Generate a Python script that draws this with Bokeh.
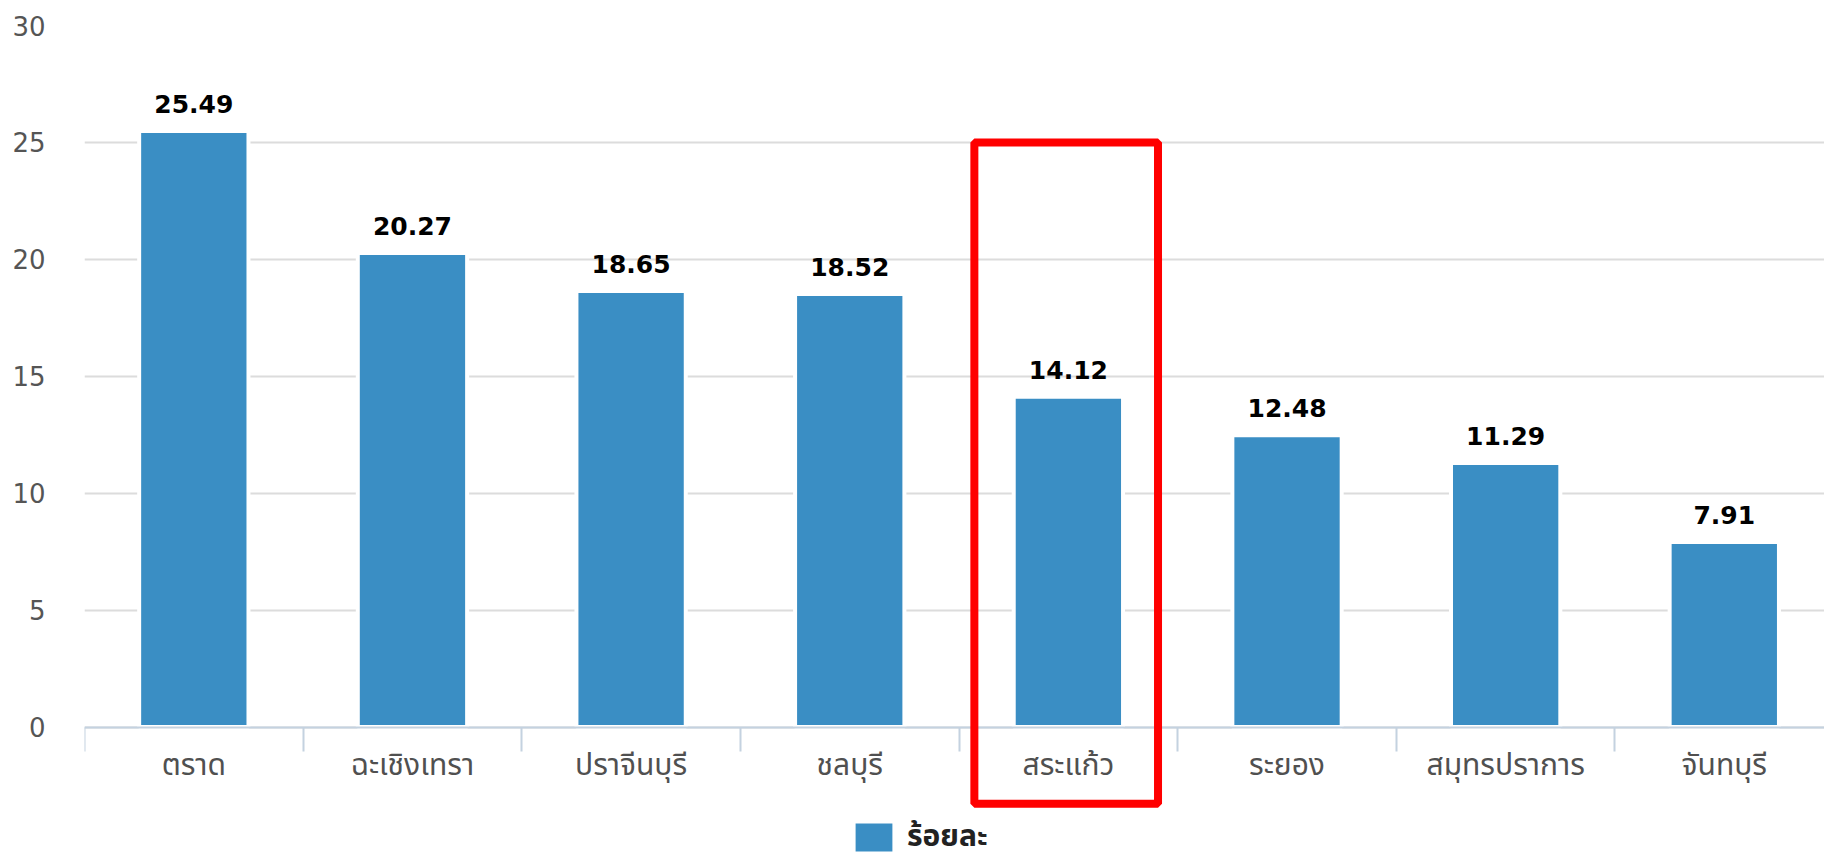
from bokeh.plotting import figure
from bokeh.models import (FixedTicker, Range1d, ColumnDataSource, LinearAxis,
                          BoxAnnotation, Legend, LegendItem, Grid)
from bokeh.core.properties import value
from bokeh.embed import file_html
from bokeh.resources import INLINE

# ---- data ----
categories = ["ตราด", "ฉะเชิงเทรา", "ปราจีนบุรี", "ชลบุรี", "สระแก้ว", "ระยอง", "สมุทรปราการ", "จันทบุรี"]
values = [25.49, 20.27, 18.65, 18.52, 14.12, 12.48, 11.29, 7.91]
value_labels = ["25.49", "20.27", "18.65", "18.52", "14.12", "12.48", "11.29", "7.91"]
y_ticks = [0, 5, 10, 15, 20, 25, 30]
series_name = "ร้อยละ"
highlight = "สระแก้ว"

# ---- layout constants ----
W, H = 1824, 860
LEFT, TOP = 84, 25
ZERO_Y = 726.5
CAT_PX = 218.64
PX_PER_UNIT = (ZERO_Y - TOP) / 30.0
x_end = (W - LEFT) / CAT_PX
y_start = -(H - ZERO_Y) / PX_PER_UNIT

BAR = "#3a8ec4"
THAI = "'Noto Sans Thai', 'Loma', 'Garuda', 'Tahoma', 'Noto Sans', sans-serif"

centers = [i + 0.5 for i in range(len(categories))]
bounds = list(range(len(categories) + 1))

src = ColumnDataSource(dict(x=centers, top=values, lab=value_labels))

p = figure(width=W, height=H, output_backend="svg", toolbar_location=None,
           x_range=Range1d(0, x_end), y_range=Range1d(y_start, 30),
           min_border_left=LEFT, min_border_right=0, min_border_top=TOP,
           min_border_bottom=0, x_axis_type=None, y_axis_type=None)
p.outline_line_color = None
p.background_fill_color = "white"

g = Grid(dimension=1, ticker=FixedTicker(ticks=y_ticks), grid_line_color="#dcdcdc",
         grid_line_width=2)
p.add_layout(g)

r = p.vbar(x="x", top="top", width=0.5, source=src, fill_color=BAR,
           line_color="white", line_width=4)

p.text(x="x", y="top", text="lab", source=src, text_align="center",
       text_baseline="alphabetic", y_offset=-27, text_font_size="25px",
       text_font_style="bold", text_color="black", text_font=value("DejaVu Sans"))

# y axis
ya = LinearAxis(ticker=FixedTicker(ticks=y_ticks, minor_ticks=[]))
ya.axis_line_color = None
ya.major_tick_line_color = None
ya.major_tick_out = 0
ya.major_tick_in = 0
ya.major_label_standoff = 39
ya.major_label_text_font = "DejaVu Sans"
ya.major_label_text_font_size = "26px"
ya.major_label_text_color = "#555555"
p.add_layout(ya, "left")

# x axis (fixed at y = 0)
xa = LinearAxis(ticker=FixedTicker(ticks=centers, minor_ticks=bounds), fixed_location=0)
xa.major_label_overrides = {c: n for c, n in zip(centers, categories)}
xa.axis_line_color = "#c4d2e0"
xa.axis_line_width = 2
xa.major_tick_line_color = None
xa.major_tick_out = 0
xa.major_tick_in = 0
xa.minor_tick_line_color = "#c4d2e0"
xa.minor_tick_line_width = 2
xa.minor_tick_out = 24
xa.minor_tick_in = 0
xa.major_label_standoff = -8
xa.major_label_text_font = THAI
xa.major_label_text_font_size = "30px"
xa.major_label_text_color = "#505050"
p.add_layout(xa, "below")

# highlight box
hi = categories.index(highlight)
box = BoxAnnotation(left=hi + 0.07, right=hi + 0.91, top=25, bottom=-3.28,
                    fill_alpha=0, line_color="#ff0000", line_alpha=1.0, line_width=8)
p.add_layout(box)

legend = Legend(items=[LegendItem(label=series_name, renderers=[r])],
                location=(764, 0), orientation="horizontal",
                glyph_width=51, glyph_height=40, label_height=36, label_standoff=8,
                padding=0, margin=0, border_line_color=None,
                background_fill_alpha=0,
                label_text_font=THAI, label_text_font_size="30px",
                label_text_font_style="bold", label_text_color="#222222")
p.add_layout(legend, "center")

open("out.html", "w").write(file_html(p, INLINE))
